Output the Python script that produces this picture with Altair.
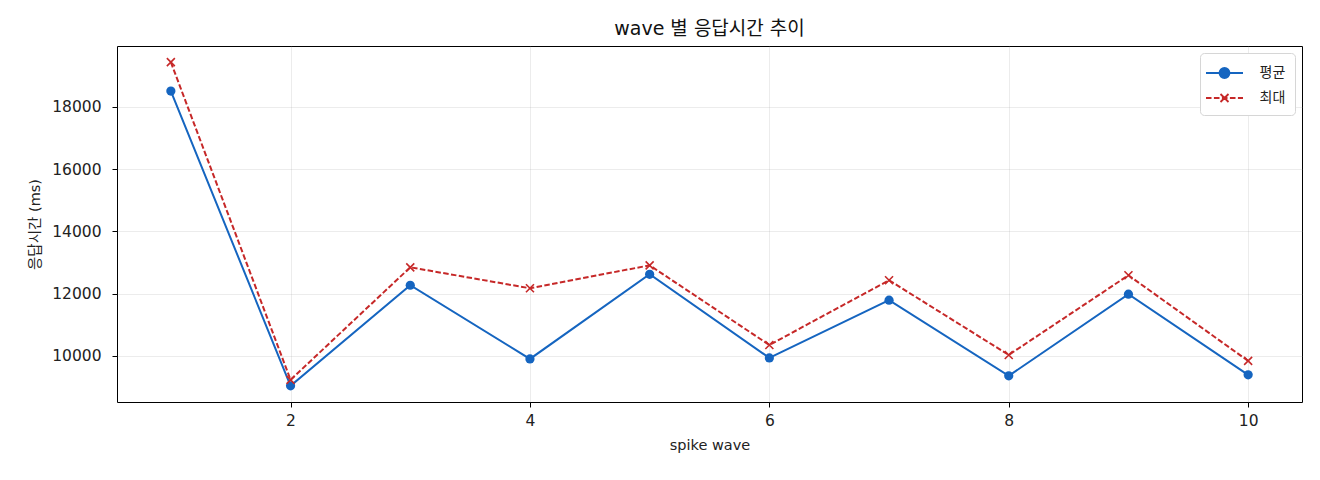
import altair as alt
import pandas as pd

# values
waves = [1, 2, 3, 4, 5, 6, 7, 8, 9, 10]
avg_ms = [18512, 9040, 12272, 9904, 12624, 9936, 11792, 9360, 11984, 9392]
max_ms = [19440, 9232, 12848, 12176, 12912, 10352, 12432, 10032, 12592, 9840]
series_names = ["평균", "최대"]
series_colors = ["#1565C0", "#C62828"]

FONT = "DejaVu Sans, Noto Sans CJK KR"

df = pd.DataFrame({"wave": waves, "avg": avg_ms, "max": max_ms})
legend_df = pd.DataFrame({"series": series_names})

x_enc = alt.X("wave:Q", title="spike wave",
              scale=alt.Scale(domain=[0.55, 10.45], nice=False, zero=False),
              axis=alt.Axis(values=[2, 4, 6, 8, 10], format="d"))
y_scale = alt.Scale(domain=[8520, 19960], nice=False, zero=False)
y_axis = alt.Axis(values=[10000, 12000, 14000, 16000, 18000], format="d")

base = alt.Chart(df)

avg_line = base.mark_line(color=series_colors[0], strokeWidth=2).encode(
    x=x_enc, y=alt.Y("avg:Q", title="응답시간 (ms)", scale=y_scale, axis=y_axis))
avg_pts = base.mark_point(filled=True, shape="circle", size=85, opacity=1,
                          color=series_colors[0]).encode(x="wave:Q", y="avg:Q")
max_line = base.mark_line(color=series_colors[1], strokeWidth=2,
                          strokeDash=[5.5, 2.4]).encode(x="wave:Q", y="max:Q")
max_pts = base.mark_point(shape="M-1,-1L1,1M-1,1L1,-1", size=64, opacity=1,
                          strokeWidth=1.6, color=series_colors[1]).encode(x="wave:Q", y="max:Q")

# legend-only layer: no rows drawn, symbols from custom paths (20px box, 37px wide path)
avg_sym = ("M-1.85,0H1.85M-0.5,0A0.5,0.5 0 1,1 0.5,0A0.5,0.5 0 1,1 -0.5,0Z")
max_sym = ("M-1.85,0H-1.3M-1.06,0H-0.5M-0.26,0H0.3M0.54,0H1.1M1.34,0H1.85"
           "M-0.4,-0.4L0.4,0.4M-0.4,0.4L0.4,-0.4")
leg = alt.Legend(title=None, orient="top-right", offset=7,
                 symbolSize=400, symbolStrokeWidth=1.8, symbolOffset=4.5,
                 labelFont="Noto Sans CJK KR", labelFontSize=14, labelColor="#222",
                 labelOffset=24,
                 fillColor="white", strokeColor="#d6d6d6", cornerRadius=4,
                 padding=9, rowPadding=5)
legend_layer = alt.Chart(legend_df).mark_point(opacity=1, filled=True).encode(
    fill=alt.Fill("series:N", scale=alt.Scale(domain=series_names, range=series_colors), legend=leg),
    stroke=alt.Stroke("series:N", scale=alt.Scale(domain=series_names, range=series_colors), legend=leg),
    shape=alt.Shape("series:N", scale=alt.Scale(domain=series_names, range=[avg_sym, max_sym]), legend=leg),
).transform_filter("false")

chart = alt.layer(avg_line, avg_pts, max_line, max_pts, legend_layer).properties(
    width=1185, height=356,
    title=alt.Title("wave 별 응답시간 추이", font=FONT, fontSize=19, fontWeight="normal",
                    color="#111", offset=7),
    autosize=alt.AutoSizeParams(type="none"),
    padding={"left": 109, "top": 38, "right": 10, "bottom": 70},
).configure_view(
    stroke="black", strokeWidth=1
).configure_axis(
    labelFont=FONT, labelFontSize=15.5, labelColor="#222",
    titleFont=FONT, titleFontSize=14.5, titleFontWeight="normal", titleColor="#222",
    domain=False, tickColor="black", tickSize=5,
    gridColor="#b0b0b0", gridOpacity=0.3, gridWidth=0.8,
).configure_axisX(labelPadding=6, titlePadding=10).configure_axisY(labelPadding=11, titlePadding=9)

chart.save("out.html", embed_options={"renderer": "svg", "actions": False})
